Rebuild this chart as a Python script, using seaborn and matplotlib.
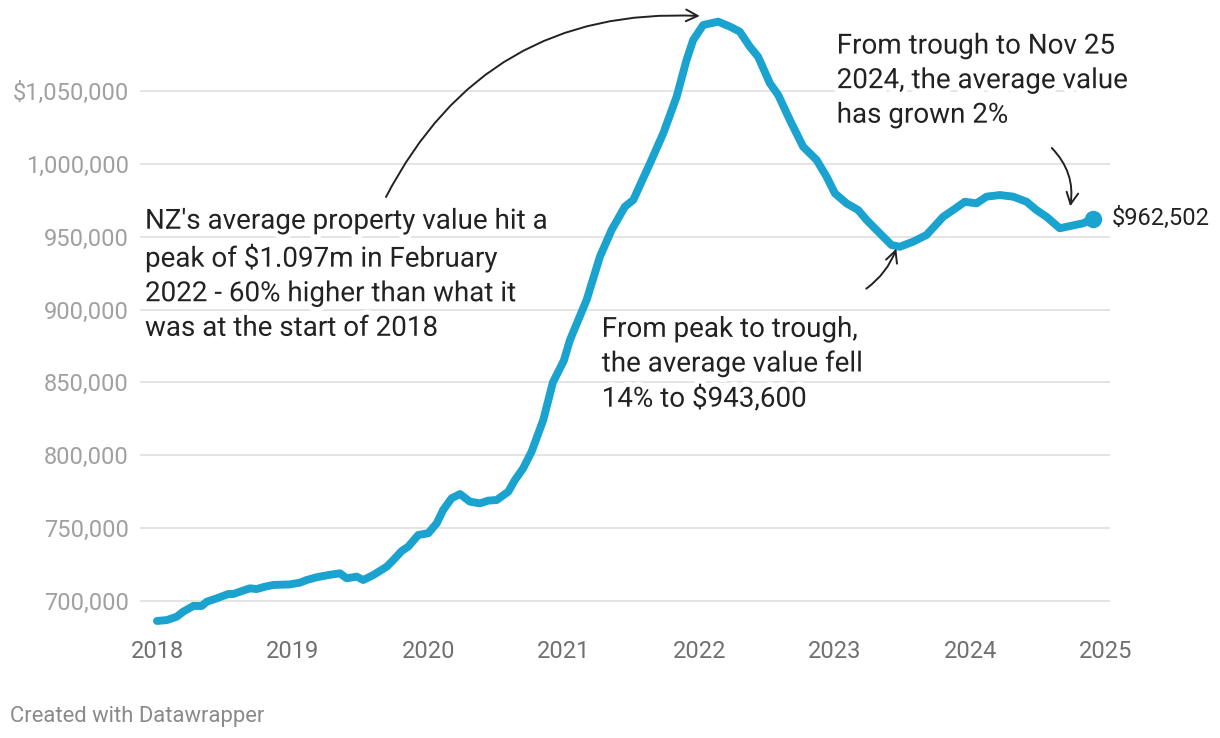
import numpy as np
import pandas as pd
import matplotlib
matplotlib.use("Agg")
import matplotlib.pyplot as plt
import matplotlib.patheffects as pe
import seaborn as sns

# ---- data (decimal year, average property value NZD) ----
years = [2018.000, 2018.072, 2018.145, 2018.194, 2018.268, 2018.330, 2018.367, 2018.440,
         2018.526, 2018.563, 2018.612, 2018.686, 2018.735, 2018.796, 2018.858, 2018.981,
         2019.055, 2019.104, 2019.178, 2019.263, 2019.350, 2019.399, 2019.473, 2019.521,
         2019.595, 2019.694, 2019.743, 2019.805, 2019.853, 2019.927, 2020.001, 2020.063,
         2020.111, 2020.173, 2020.235, 2020.308, 2020.382, 2020.443, 2020.505, 2020.591,
         2020.640, 2020.701, 2020.763, 2020.849, 2020.920, 2021.001, 2021.046, 2021.169,
         2021.267, 2021.353, 2021.451, 2021.513, 2021.636, 2021.734, 2021.833, 2021.906,
         2021.955, 2022.029, 2022.139, 2022.226, 2022.299, 2022.373, 2022.434, 2022.521,
         2022.582, 2022.668, 2022.766, 2022.865, 2022.939, 2023.000, 2023.086, 2023.172,
         2023.234, 2023.332, 2023.418, 2023.479, 2023.577, 2023.676, 2023.799, 2023.872,
         2023.959, 2024.045, 2024.119, 2024.217, 2024.315, 2024.414, 2024.487, 2024.561,
         2024.659, 2024.733, 2024.831, 2024.905]
values = [686300, 686900, 689200, 692700, 696600, 696600, 699500, 701800,
          704800, 704800, 706400, 708700, 708200, 709800, 711000, 711400,
          712600, 714400, 716300, 717800, 719000, 715600, 716700, 714400,
          717800, 723500, 728100, 734300, 737300, 745300, 746500, 753300,
          762500, 770500, 773400, 768200, 767000, 768900, 769300, 775000,
          783000, 791100, 802500, 824200, 850000, 865000, 879100, 906600,
          936300, 954600, 970600, 975200, 1000300, 1020900, 1046100, 1071300,
          1085000, 1095300, 1097600, 1094200, 1090700, 1080400, 1073500, 1055300,
          1047300, 1030100, 1011800, 1002700, 991200, 979800, 972900, 968300,
          961500, 952300, 944300, 943100, 946600, 951200, 963700, 968300,
          974000, 972900, 977500, 978600, 977500, 974000, 968300, 963700,
          955800, 957300, 959200, 962502]

y_ticks = [700000, 750000, 800000, 850000, 900000, 950000, 1000000, 1050000]
y_tick_labels = ["700,000", "750,000", "800,000", "850,000", "900,000",
                 "950,000", "1,000,000", "$1,050,000"]
x_ticks = [2018, 2019, 2020, 2021, 2022, 2023, 2024, 2025]
x_tick_labels = ["2018", "2019", "2020", "2021", "2022", "2023", "2024", "2025"]

note_peak = "NZ's average property value hit a\npeak of $1.097m in February\n2022 - 60% higher than what it\nwas at the start of 2018"
note_trough = "From peak to trough,\nthe average value fell\n14% to $943,600"
note_recent = "From trough to Nov 25\n2024, the average value\nhas grown 2%"
last_label = "$962,502"
footer = "Created with Datawrapper"

df = pd.DataFrame({"year": years, "value": values})

# ---- style ----
sns.set_theme(style="white")
plt.rcParams["font.family"] = ["Roboto", "DejaVu Sans"]

W, H = 1220, 738
fig = plt.figure(figsize=(W / 100, H / 100), dpi=100)
ax = fig.add_axes([140 / W, 108 / H, 970 / W, 620 / H])

LINE = "#1aa3cf"
sns.lineplot(data=df, x="year", y="value", ax=ax, color=LINE, linewidth=5.7,
             solid_capstyle="round", solid_joinstyle="round", zorder=3)
ax.plot(df["year"].iloc[-1], df["value"].iloc[-1], "o", color=LINE, markersize=11.5, zorder=4)

ax.set_xlim(2018 - 17 / 135.6, 2025 + 4 / 135.6)
ax.set_ylim(680100, 1105600)

ax.set_yticks(y_ticks)
ax.set_yticklabels(y_tick_labels)
ax.set_xticks(x_ticks)
ax.set_xticklabels(x_tick_labels)
ax.tick_params(axis="y", length=0, pad=8, labelsize=17, labelcolor="#a0a0a0")
ax.tick_params(axis="x", length=0, pad=7, labelsize=17, labelcolor="#707070")
ax.grid(axis="y", color="#e2e2e2", linewidth=1.3, zorder=0)
ax.grid(axis="x", visible=False)
for s in ax.spines.values():
    s.set_visible(False)
ax.set_xlabel("")
ax.set_ylabel("")
ax.patch.set_alpha(0)

halo = [pe.withStroke(linewidth=7, foreground="white")]
def fx(px):
    return px / W
def fy(py):
    return 1 - py / H

LS_PX = 34.7  # line pitch in pixels
txt_kw = dict(fontsize=20, color="#222222", ha="left", va="baseline",
              linespacing=1.36, path_effects=halo, zorder=5)
def note(x, first_baseline, s):
    n = s.count("\n")
    fig.text(fx(x), fy(first_baseline + n * LS_PX), s, **txt_kw)

note(145, 231.7, note_peak)
note(601.7, 337.3, note_trough)
note(836.7, 53.3, note_recent)
fig.text(fx(1112), fy(225), last_label, fontsize=17, color="#222222",
         ha="left", va="baseline")
fig.text(fx(10), fy(722), footer, fontsize=15.8, color="#8a8a8a",
         ha="left", va="baseline")

arrow_kw = dict(arrowstyle="->,head_length=0.7,head_width=0.35", color="#222222", lw=1.4,
                shrinkA=0, shrinkB=0)
# arrow to the peak
ax.annotate("", xy=(2022.004, 1101470), xytext=(2019.689, 977255),
            arrowprops=dict(connectionstyle="arc3,rad=-0.32", **arrow_kw))
# arrow to the trough
ax.annotate("", xy=(2023.453, 941800), xytext=(2023.232, 914350),
            arrowprops=dict(connectionstyle="arc3,rad=0.15", **arrow_kw))
# arrow to the latest value
ax.annotate("", xy=(2024.736, 970850), xytext=(2024.600, 1010900),
            arrowprops=dict(connectionstyle="arc3,rad=-0.25", **arrow_kw))

fig.savefig("out.png", dpi=100)
